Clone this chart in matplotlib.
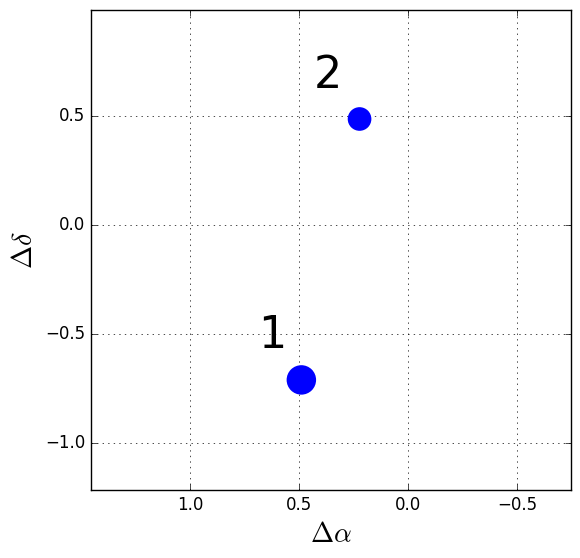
import numpy as np
import matplotlib
matplotlib.use('Agg')
import matplotlib.pyplot as plt

plt.style.use('classic')

dra = [0.489, 0.222]
ddec = [-0.711, 0.486]
sizes = [450, 290]
labels = ['1', '2']
label_x = [0.624, 0.367]
label_y = [-0.509, 0.686]

fig = plt.figure(figsize=(5.8, 5.58), dpi=100)
ax = fig.add_axes([91/580, 68/558, 480/580, 480/558])
ax.scatter(dra, ddec, s=sizes, c='blue', edgecolors='none', zorder=3)
for lx, ly, t in zip(label_x, label_y, labels):
    ax.text(lx, ly, t, fontsize=32, ha='center', va='center')

ax.set_xlim(1.454, -0.748)
ax.set_ylim(-1.216, 0.986)
ax.set_xticks([1.0, 0.5, 0.0, -0.5])
ax.set_yticks([0.5, 0.0, -0.5, -1.0])
ax.grid(True)
ax.set_xlabel(r'$\Delta\alpha$', fontsize=20)
ax.set_ylabel(r'$\Delta\delta$', fontsize=20)
fig.savefig('out.png', dpi=100)
